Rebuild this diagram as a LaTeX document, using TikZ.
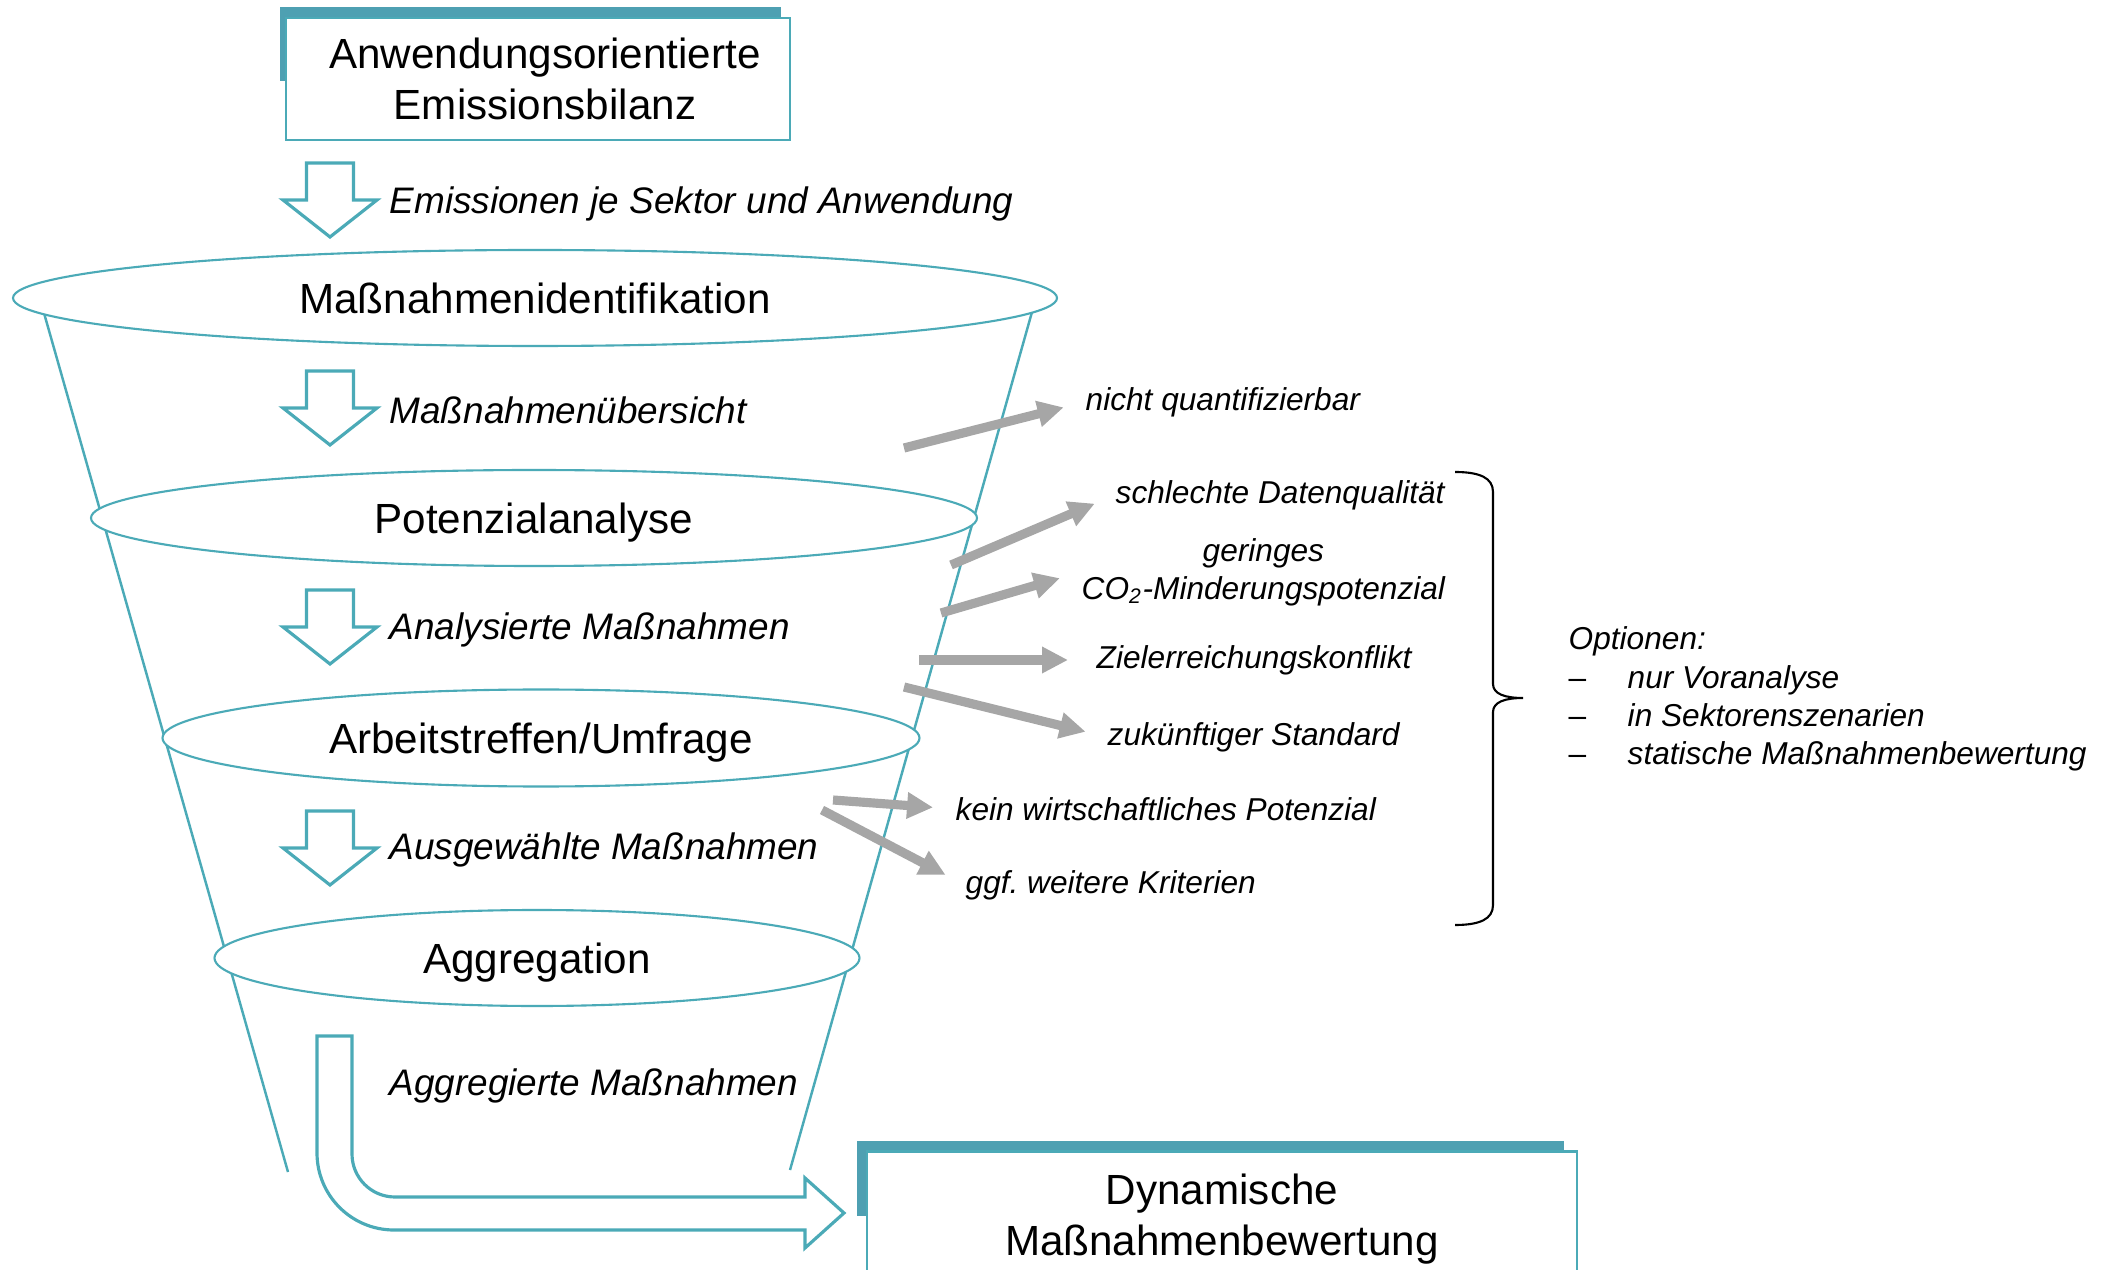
\documentclass[tikz,border=0pt]{standalone}
\usepackage{fontspec}
\setmainfont{Liberation Sans}
\definecolor{funnelteal}{RGB}{75,170,183}
\definecolor{shadeteal}{RGB}{78,160,178}
\definecolor{arrowgray}{RGB}{166,166,166}
\usetikzlibrary{calc, positioning, arrows.meta, shapes.geometric, backgrounds}

\begin{document}
\begin{tikzpicture}[x=0.1mm, y=-0.1mm,
    stage/.style={ellipse, draw=funnelteal, line width=0.6pt, fill=white, inner sep=0pt,
      text depth=0pt, font=\fontsize{12}{14.5}\selectfont},
    stepbox/.style={draw=funnelteal, line width=0.8pt, fill=white, align=center, inner sep=0pt,
      font=\fontsize{12}{14.5}\selectfont},
    flowlabel/.style={anchor=west, inner sep=0pt, font=\fontsize{10.5}{12.6}\selectfont\itshape},
    droplabel/.style={anchor=west, inner sep=0pt, align=center, font=\fontsize{9}{10.9}\selectfont\itshape},
    hollow/.style={draw=funnelteal, line width=0.9pt, fill=white},
    dropout/.style={draw=arrowgray, line width=2.6pt, -{Triangle[length=2.6mm, width=2.5mm]}, shorten >=2.2mm},
    downarr/.pic={\draw[hollow] (-23.5,-37) -- (23.5,-37) -- (23.5,0) -- (47,0) -- (0,37) -- (-47,0) -- (-23.5,0) -- cycle;}]
  \useasboundingbox (0,0) rectangle (2109,1270);
  \clip (0,0) rectangle (2109,1270);

  % funnel walls
  \draw[funnelteal, line width=0.7pt] (44,313) -- (288,1172);
  \draw[funnelteal, line width=0.7pt] (1032,312) -- (790,1170);

  % input and output boxes
  \node[stepbox, minimum width=50.4mm, minimum height=12.2mm] (bilanz) at (538,79)
    {\hspace*{1.4mm}Anwendungsorientierte\\\hspace*{1.4mm}Emissionsbilanz};
  \node[stepbox, minimum width=71mm, minimum height=13.5mm] (bewertung) at (1222,1219)
    {Dynamische\\Maßnahmenbewertung};
  \begin{scope}[on background layer]
    \fill[shadeteal] ($(bilanz.north west)+(-5,-10)$) rectangle ($(bilanz.north east)+(-10,64)$);
    \fill[shadeteal] ($(bewertung.north west)+(-9,-9)$) rectangle ($(bewertung.north east)+(-14,66)$);
  \end{scope}

  % funnel stages
  \node[stage, minimum width=104.4mm, minimum height=9.6mm] (ident) at (535,298) {Maßnahmenidentifikation};
  \node[stage, minimum width=88.6mm, minimum height=9.6mm] (potenz) at (534,518) {Potenzialanalyse};
  \node[stage, minimum width=75.7mm, minimum height=9.7mm] (treffen) at (541,738) {Arbeitstreffen/Umfrage};
  \node[stage, minimum width=64.5mm, minimum height=9.6mm] (aggr) at (537,958) {Aggregation};

  % flow between stages
  \pic at (330,200) {downarr};
  \pic at (330,408) {downarr};
  \pic at (330,627) {downarr};
  \pic at (330,848) {downarr};
  \node[flowlabel] (emis) at (389,204) {Emissionen je Sektor und Anwendung};
  \node[flowlabel] (uebers) at (389,410) {Maßnahmenübersicht};
  \node[flowlabel] (analys) at (389,630) {Analysierte Maßnahmen};
  \node[flowlabel] (ausgew) at (389,850) {Ausgewählte Maßnahmen};
  \node[flowlabel] (aggrm) at (389,1086) {Aggregierte Maßnahmen};

  % bent arrow to the output box
  \draw[hollow] (317,1036) -- (317,1153) arc[start angle=180, end angle=270, radius=7.7mm]
    -- (805,1230) -- (805,1248) -- (844,1213) -- (805,1178) -- (805,1197)
    -- (395,1197) arc[start angle=270, end angle=180, radius=4.3mm] -- (352,1036) -- cycle;

  % dropped measures
  \node[droplabel] (nq) at (1085,402) {nicht quantifizierbar};
  \node[droplabel] (sd) at (1115,495) {schlechte Datenqualität};
  \node[droplabel] (co) at (1081,572) {geringes\\CO\textsubscript{2}-Minderungspotenzial};
  \node[droplabel] (zk) at (1096,660) {Zielerreichungskonflikt};
  \node[droplabel] (zs) at (1107,737) {zukünftiger Standard};
  \node[droplabel] (kw) at (955,809) {kein wirtschaftliches Potenzial};
  \node[droplabel] (gw) at (965,885) {ggf.\ weitere Kriterien};

  \coordinate (t1) at (904,448);
  \coordinate (t2) at (951,565);
  \coordinate (t3) at (941,613);
  \coordinate (t4) at (919,660);
  \coordinate (t5) at (904,687);
  \coordinate (t6) at (833,800);
  \coordinate (t7) at (822,810);
  \draw[dropout] (t1) -- (nq.west);
  \draw[dropout] (t2) -- (sd.west);
  \draw[dropout] (t3) -- (co.west);
  \draw[dropout, shorten >=2.8mm] (t4) -- (zk.west);
  \draw[dropout] (t5) -- (zs.west);
  \draw[dropout] (t6) -- (kw.west);
  \draw[dropout] (t7) -- (gw.west);

  % brace and options
  \draw[line width=0.6pt] (1455,472) .. controls (1480,472) and (1493,478) .. (1493,492) -- (1493,684)
    .. controls (1493,694) and (1505,698) .. (1523,698)
    .. controls (1505,698) and (1493,702) .. (1493,712) -- (1493,905)
    .. controls (1493,919) and (1480,925) .. (1455,925);
  \node[anchor=west, inner sep=0pt, align=left, font=\fontsize{9}{10.9}\selectfont\itshape] (opt) at (1568,699)
    {Optionen:\\
     \makebox[5.9mm][l]{\upshape –}nur Voranalyse\\
     \makebox[5.9mm][l]{\upshape –}in Sektorenszenarien\\
     \makebox[5.9mm][l]{\upshape –}statische Maßnahmenbewertung};
\end{tikzpicture}
\end{document}
